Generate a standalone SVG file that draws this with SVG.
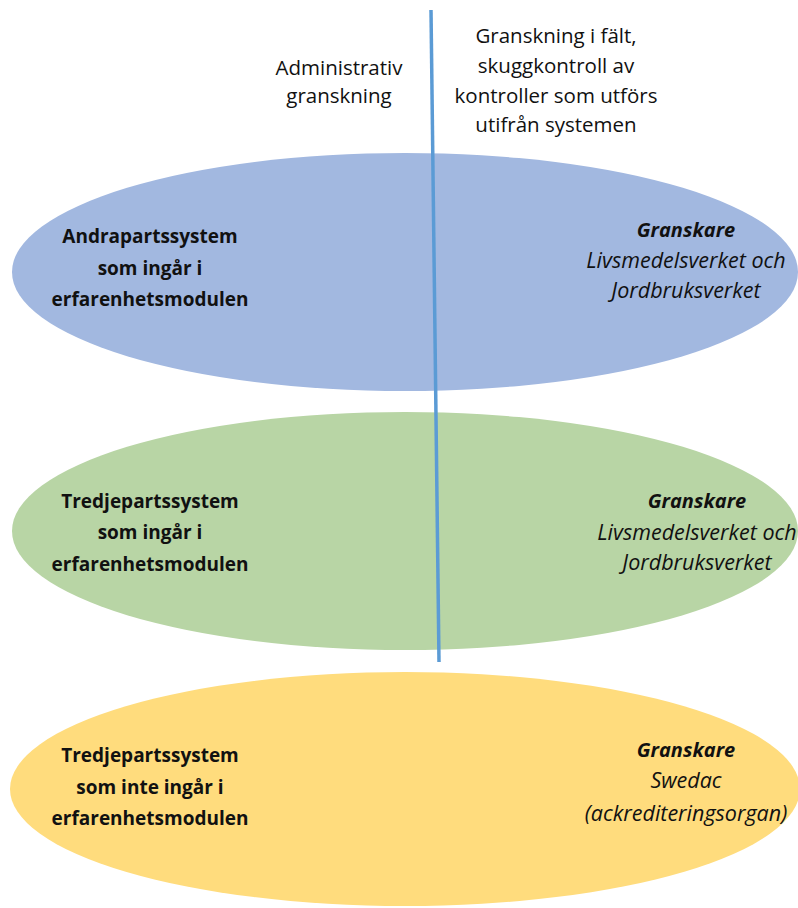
<svg xmlns="http://www.w3.org/2000/svg" width="798" height="908" viewBox="0 0 798 908">
<style>
text{font-family:"Open Sans","Liberation Sans",sans-serif;fill:#111;text-anchor:middle}
.t{font-size:20.5px}
.b{font-size:19px;font-weight:bold}
.i{font-size:21.5px;font-style:italic}
.bi{font-size:20px;font-style:italic;font-weight:bold}
</style>
<rect width="798" height="908" fill="#fff"/>
<g id="header-left"><text class="t" x="339" y="75">Administrativ</text><text class="t" x="339" y="103">granskning</text></g>
<g id="header-right"><text class="t" x="556" y="43">Granskning i fält,</text><text class="t" x="556" y="73">skuggkontroll av</text><text class="t" x="556" y="103">kontroller som utförs</text><text class="t" x="556" y="132">utifrån systemen</text></g>
<g id="andrapart">
<ellipse cx="405" cy="272" rx="393" ry="119" fill="#A2B8E0"/>
<text class="b" x="150" y="243">Andrapartssystem</text><text class="b" x="150" y="275">som ingår i</text><text class="b" x="150" y="306">erfarenhetsmodulen</text>
<text class="bi" x="686" y="237">Granskare</text><text class="i" x="686" y="268">Livsmedelsverket och</text><text class="i" x="686" y="298">Jordbruksverket</text>
</g>
<g id="tredjepart">
<ellipse cx="405" cy="531" rx="393" ry="119" fill="#B8D5A5"/>
<text class="b" x="150" y="508">Tredjepartssystem</text><text class="b" x="150" y="539">som ingår i</text><text class="b" x="150" y="571">erfarenhetsmodulen</text>
<text class="bi" x="697" y="508">Granskare</text><text class="i" x="697" y="540">Livsmedelsverket och</text><text class="i" x="697" y="570">Jordbruksverket</text>
</g>
<g id="tredjepart-inte">
<ellipse cx="405" cy="789" rx="395" ry="117" fill="#FFDC7D"/>
<text class="b" x="150" y="762">Tredjepartssystem</text><text class="b" x="150" y="794">som inte ingår i</text><text class="b" x="150" y="825">erfarenhetsmodulen</text>
<text class="bi" x="686" y="757">Granskare</text><text class="i" x="686" y="788">Swedac</text><text class="i" x="686" y="821">(ackrediteringsorgan)</text>
</g>
<g id="connectors"><line x1="431" y1="10" x2="439" y2="662" stroke="#5B9BD5" stroke-width="3.5"/></g>
</svg>
